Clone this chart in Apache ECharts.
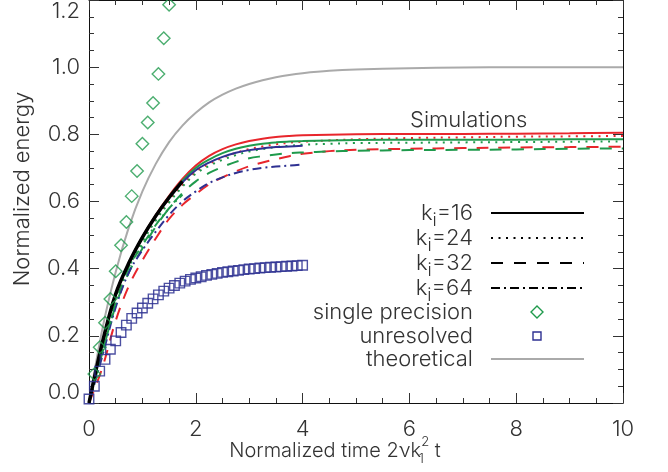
<!DOCTYPE html>
<html>
<head>
<meta charset="utf-8">
<script src="https://cdn.jsdelivr.net/npm/echarts@6/dist/echarts.min.js"></script>
<style>
  html, body { margin: 0; padding: 0; background: #fff; }
  #chart { width: 668px; height: 472px; }
</style>
</head>
<body>
<div id="chart"></div>
<script>
// Normalized energy growth: simulations at several k_i, single-precision run,
// unresolved run and the theoretical curve.

// time grid shared by the simulation runs
const tSim = [0, 0.25, 0.5, 0.75, 1, 1.25, 1.5, 1.75, 2, 2.25, 2.5, 2.75, 3, 3.25, 3.5, 3.75, 4, 4.5, 5, 6, 7, 8, 9, 10];

// simulation runs (values on tSim; shorter runs stop early)
const blackSolid   = [0, 0.18, 0.325, 0.418, 0.493, 0.557, 0.612, 0.66];
const redSolid     = [0, 0.18, 0.325, 0.418, 0.495, 0.56, 0.617, 0.667, 0.707, 0.736, 0.756, 0.77, 0.78, 0.787, 0.792, 0.795, 0.797, 0.799, 0.8, 0.801, 0.801, 0.802, 0.803, 0.805];
const greenSolid   = [0, 0.18, 0.325, 0.418, 0.494, 0.558, 0.614, 0.662, 0.7, 0.725, 0.744, 0.757, 0.766, 0.772, 0.776, 0.779, 0.78, 0.782, 0.783, 0.784, 0.784, 0.784, 0.785, 0.785];
const blueSolid    = [0, 0.18, 0.325, 0.418, 0.493, 0.556, 0.61, 0.657, 0.693, 0.716, 0.733, 0.745, 0.753, 0.758, 0.762, 0.764, 0.766];
const redDotted    = [0, 0.175, 0.318, 0.41, 0.485, 0.548, 0.603, 0.65, 0.688, 0.712, 0.73, 0.745, 0.756, 0.764, 0.77, 0.775, 0.778, 0.782, 0.785, 0.789, 0.791, 0.793, 0.794, 0.795];
const greenDotted  = [0, 0.172, 0.314, 0.406, 0.48, 0.543, 0.597, 0.644, 0.683, 0.706, 0.724, 0.738, 0.749, 0.756, 0.762, 0.766, 0.769, 0.772, 0.774, 0.775, 0.776, 0.777, 0.778, 0.779];
const redDashed    = [0, 0.105, 0.245, 0.35, 0.425, 0.49, 0.548, 0.59, 0.622, 0.651, 0.672, 0.69, 0.705, 0.716, 0.726, 0.735, 0.742, 0.75, 0.754, 0.757, 0.759, 0.761, 0.762, 0.763];
const greenDashed  = [0, 0.15, 0.29, 0.39, 0.46, 0.525, 0.58, 0.625, 0.66, 0.685, 0.703, 0.718, 0.729, 0.735, 0.74, 0.744, 0.746, 0.749, 0.751, 0.753, 0.754, 0.755, 0.757, 0.758];
const blueDashDot  = [0, 0.14, 0.285, 0.39, 0.455, 0.51, 0.56, 0.6, 0.63, 0.655, 0.672, 0.685, 0.694, 0.7, 0.704, 0.707, 0.71];
const greenDashDot = [0, 0.155, 0.3, 0.405, 0.47, 0.53, 0.58, 0.62];

// theoretical curve
const tTheory = [0, 0.25, 0.5, 0.75, 1, 1.25, 1.5, 1.75, 2, 2.25, 2.5, 2.75, 3, 3.25, 3.5, 3.75, 4, 4.5, 5, 6, 7, 8, 9, 10];
const theory  = [0, 0.22, 0.39, 0.525, 0.63, 0.712, 0.777, 0.826, 0.864, 0.895, 0.918, 0.936, 0.95, 0.961, 0.97, 0.977, 0.982, 0.989, 0.993, 0.997, 0.999, 1, 1, 1];

// single precision run
const tSingle = [0.1, 0.2, 0.3, 0.4, 0.5, 0.6, 0.7, 0.8, 0.9, 1.0, 1.1, 1.2, 1.3, 1.4, 1.5];
const single  = [0.086, 0.166, 0.239, 0.31, 0.392, 0.47, 0.539, 0.616, 0.691, 0.772, 0.835, 0.893, 0.98, 1.086, 1.186];

// unresolved run
const tUnres = [0, 0.1, 0.2, 0.3, 0.4, 0.5, 0.6, 0.7, 0.8, 0.9, 1.0, 1.1, 1.2, 1.3, 1.4, 1.5, 1.6, 1.7, 1.8, 1.9, 2.0,
                2.1, 2.2, 2.3, 2.4, 2.5, 2.6, 2.7, 2.8, 2.9, 3.0, 3.1, 3.2, 3.3, 3.4, 3.5, 3.6, 3.7, 3.8, 3.9, 4.0];
const unres  = [0.012, 0.05, 0.095, 0.13, 0.16, 0.185, 0.21, 0.232, 0.252, 0.268, 0.283, 0.297, 0.31, 0.322, 0.333, 0.342,
                0.35, 0.357, 0.363, 0.368, 0.372, 0.376, 0.38, 0.383, 0.386, 0.389, 0.391, 0.393, 0.395, 0.397, 0.399,
                0.4, 0.402, 0.403, 0.404, 0.405, 0.406, 0.407, 0.408, 0.409, 0.41];

// axis tick labels
const xTicks = ['0', '2', '4', '6', '8', '10'];
const yTicks = ['0.0', '0.2', '0.4', '0.6', '0.8', '1.0', '1.2'];

// legend rows for the resolution key
const legendRows = [
  { label: '16', dash: null },
  { label: '24', dash: [2, 5.5] },
  { label: '32', dash: [12, 11] },
  { label: '64', dash: [9, 4, 2, 4] }
];

const FONT = 'Inter';
const FW = 300;
const FS = 22;
const TXT = '#333';
const RED = '#e8262c', GREEN = '#1f9a4c', BLUE = '#2e3192', GRAY = '#aaaaaa';

const pairs = (xs, ys) => ys.map((v, i) => [xs[i], v]);

function simLine(name, vals, color, dash, width) {
  return {
    name, type: 'line', xAxisIndex: 0, yAxisIndex: 0,
    data: pairs(tSim, vals), smooth: 0.35, showSymbol: false, symbol: 'none',
    lineStyle: { color, width: width || 2, type: dash || 'solid' },
    silent: true, z: 3
  };
}

// one axis of the frame: ticks point into the plot, optional labels
function frameAxis(position, min, max, interval, tickLen, showLine, label) {
  return {
    type: 'value', position, min, max, interval, offset: 0,
    axisLine: { show: showLine, onZero: false, lineStyle: { color: '#111', width: 1 } },
    axisTick: { show: true, inside: true, length: tickLen, lineStyle: { color: '#333', width: 1 } },
    minorTick: { show: false },
    splitLine: { show: false },
    axisLabel: label || { show: false }
  };
}

const chart = echarts.init(document.getElementById('chart'), null, { renderer: 'canvas' });

const option = {
  animation: false,
  backgroundColor: '#fff',
  grid: { left: 89, right: 45, top: 0, bottom: 69, containLabel: false },
  xAxis: [
    frameAxis('bottom', 0, 10, 2, 10, true,
      { show: true, margin: 15, fontFamily: FONT, fontWeight: FW, fontSize: FS, color: TXT,
        formatter: v => xTicks[Math.round(v / 2)] }),
    frameAxis('top', 0, 10, 2, 10, true),
    frameAxis('bottom', 0, 10, 0.5, 5, false),
    frameAxis('top', 0, 10, 0.5, 5, false)
  ],
  yAxis: [
    frameAxis('left', 0, 1.2, 0.2, 10, true,
      { show: true, margin: 9, fontFamily: FONT, fontWeight: FW, fontSize: FS, color: TXT,
        verticalAlignMinLabel: 'bottom', verticalAlignMaxLabel: 'top',
        formatter: v => yTicks[Math.round(v / 0.2)] }),
    frameAxis('right', 0, 1.2, 0.2, 10, true),
    frameAxis('left', 0, 1.2, 0.05, 5, false),
    frameAxis('right', 0, 1.2, 0.05, 5, false)
  ],
  series: [
    {
      name: 'theoretical', type: 'line', data: pairs(tTheory, theory), smooth: 0.35,
      showSymbol: false, symbol: 'none', lineStyle: { color: GRAY, width: 2 }, z: 2, silent: true
    },
    simLine('red k=32', redDashed, RED, [12, 10]),
    simLine('green k=32', greenDashed, GREEN, [12, 10]),
    simLine('blue k=64', blueDashDot, BLUE, [9, 4, 2, 4]),
    simLine('green k=64', greenDashDot, GREEN, [9, 4, 2, 4]),
    simLine('red k=24', redDotted, RED, [2, 5.5]),
    simLine('green k=24', greenDotted, GREEN, [2, 5.5]),
    simLine('red k=16', redSolid, RED),
    simLine('green k=16', greenSolid, GREEN),
    simLine('blue k=16', blueSolid, BLUE),
    simLine('black k=16', blackSolid, '#000', null, 3.5),
    {
      name: 'unresolved', type: 'scatter', data: pairs(tUnres, unres),
      symbol: 'rect', symbolSize: 9.5,
      itemStyle: { color: 'rgba(0,0,0,0)', borderColor: BLUE, borderWidth: 1.4, opacity: 0.85 },
      z: 5, silent: true
    },
    {
      name: 'single precision', type: 'scatter', data: pairs(tSingle, single),
      symbol: 'diamond', symbolSize: 12.5,
      itemStyle: { color: 'rgba(0,0,0,0)', borderColor: GREEN, borderWidth: 1.4 },
      z: 6, silent: true
    }
  ],
  graphic: []
};

const txt = (extra) => Object.assign({ fontFamily: FONT, fontWeight: FW, fontSize: FS, fill: TXT }, extra);

// axis titles
const g = option.graphic;
g.push({
  type: 'text', x: 22, y: 189, rotation: Math.PI / 2, silent: true,
  style: txt({ text: 'Normalized energy', align: 'center', verticalAlign: 'middle' })
});
g.push({
  type: 'text', x: 335, y: 451, silent: true,
  style: {
    text: '{a|Normalized time 2νk}{b|1}{c|2}{a| t}',
    align: 'center', verticalAlign: 'middle',
    rich: {
      a: txt({ fontSize: 20, lineHeight: 30 }),
      b: txt({ fontSize: 13, lineHeight: 13, verticalAlign: 'bottom', width: 0 }),
      c: txt({ fontSize: 13, lineHeight: 13, verticalAlign: 'top', width: 8 })
    }
  }
});

// "Simulations" heading
g.push({
  type: 'text', x: 410, y: 120, silent: true,
  style: txt({ text: 'Simulations', align: 'left', verticalAlign: 'middle' })
});

// key block
const legTextX = 473, legLineX0 = 491, legLineX1 = 584;
const rowY = [213, 238, 263, 288, 312, 336, 359];
const subRich = {
  a: txt({ lineHeight: 34 }),
  s: txt({ fontSize: 18, lineHeight: 20, verticalAlign: 'bottom' })
};
legendRows.forEach((r, i) => {
  g.push({
    type: 'text', x: legTextX, y: rowY[i], silent: true,
    style: { text: '{a|k}{s|i}{a|=' + r.label + '}', rich: subRich, align: 'right', verticalAlign: 'middle' }
  });
  g.push({
    type: 'line', silent: true,
    shape: { x1: legLineX0, y1: rowY[i], x2: legLineX1, y2: rowY[i] },
    style: { stroke: '#000', lineWidth: 2, lineDash: r.dash || null }
  });
});
const plainRows = ['single precision', 'unresolved', 'theoretical'];
plainRows.forEach((t, j) => {
  g.push({
    type: 'text', x: legTextX, y: rowY[4 + j], silent: true,
    style: txt({ text: t, align: 'right', verticalAlign: 'middle' })
  });
});
g.push({
  type: 'polygon', silent: true,
  shape: { points: [[537, rowY[4] - 6], [543, rowY[4]], [537, rowY[4] + 6], [531, rowY[4]]] },
  style: { fill: 'none', stroke: GREEN, lineWidth: 1.4 }
});
g.push({
  type: 'rect', silent: true,
  shape: { x: 533, y: rowY[5] - 4, width: 8, height: 8 },
  style: { fill: 'none', stroke: BLUE, lineWidth: 1.4 }
});
g.push({
  type: 'line', silent: true,
  shape: { x1: legLineX0, y1: rowY[6], x2: legLineX1, y2: rowY[6] },
  style: { stroke: GRAY, lineWidth: 2 }
});

chart.setOption(option);
</script>
</body>
</html>
